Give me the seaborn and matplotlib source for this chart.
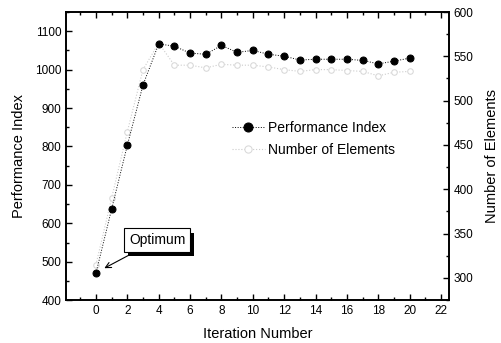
import matplotlib
matplotlib.use("Agg")
import matplotlib.pyplot as plt
import matplotlib.patheffects as pe
import seaborn as sns
import pandas as pd
from matplotlib.ticker import MultipleLocator

# data
iterations = list(range(0, 21))
performance_index = [470, 637, 803, 960, 1067, 1061, 1043, 1040, 1063, 1045, 1050,
                     1040, 1035, 1025, 1027, 1027, 1027, 1024, 1015, 1022, 1030]
number_of_elements = [315, 390, 465, 535, 565, 540, 540, 537, 541, 540, 540,
                      538, 535, 533, 535, 535, 534, 533, 528, 532, 533]

df = pd.DataFrame({"it": iterations, "perf": performance_index, "elem": number_of_elements})

sns.set_style("ticks")
plt.rcParams['font.family'] = ['Liberation Sans', 'DejaVu Sans']
plt.rcParams.update({"text.color": "black", "axes.labelcolor": "black",
                     "xtick.color": "black", "ytick.color": "black",
                     "axes.edgecolor": "black"})

fig = plt.figure(figsize=(5.01, 3.43), dpi=100)
ax = fig.add_axes([0.132, 0.125, 0.764, 0.84])
ax2 = ax.twinx()

# number of elements on the right axis (faint grey)
sns.lineplot(data=df, x="it", y="elem", ax=ax2, color="#cccccc", linestyle=":",
             linewidth=0.8, marker="o", markersize=4, markerfacecolor="white",
             markeredgecolor="#d8d8d8", label="Number of Elements", legend=False)
# performance index on the left axis
sns.lineplot(data=df, x="it", y="perf", ax=ax, color="black", linestyle=":",
             linewidth=0.7, marker="o", markersize=5, markeredgecolor="black",
             label="Performance Index", legend=False)
ax.set_zorder(ax2.get_zorder() + 1)
ax.patch.set_visible(False)

ax.set_xlim(-1.9, 22.5)
ax.set_ylim(400, 1150)
ax2.set_ylim(275, 600)
ax.xaxis.set_major_locator(MultipleLocator(2))
ax.xaxis.set_minor_locator(MultipleLocator(1))
ax.yaxis.set_major_locator(MultipleLocator(100))
ax.yaxis.set_minor_locator(MultipleLocator(50))
ax2.yaxis.set_major_locator(MultipleLocator(50))
ax2.yaxis.set_minor_locator(MultipleLocator(25))
ax.set_xticks(range(0, 23, 2))

for a in (ax, ax2):
    a.tick_params(which="both", direction="in", labelsize=8.5, width=1,
                  colors="black")
    a.tick_params(which="major", length=4)
    a.tick_params(which="minor", length=2)
    for s in a.spines.values():
        s.set_linewidth(1.2)
        s.set_color("black")
        s.set_visible(True)
ax.tick_params(which="both", top=True)

ax.set_xlabel("Iteration Number", fontsize=10.5, labelpad=7)
ax.set_ylabel("Performance Index", fontsize=10.5, labelpad=6)
ax2.set_ylabel("Number of Elements", fontsize=10.5, labelpad=8)

# legend
h1, l1 = ax.get_legend_handles_labels()
h2, l2 = ax2.get_legend_handles_labels()
leg = ax.legend(h1 + h2, l1 + l2, loc="center left", bbox_to_anchor=(0.40, 0.56),
                frameon=False, fontsize=10, handlelength=2.4, handletextpad=0.2,
                labelspacing=0.55, markerscale=1.3)

# annotation with shadowed box
ann = ax.annotate("Optimum", xy=(0.3, 478), xytext=(2.1, 556), fontsize=10,
                  ha="left", va="center",
                  bbox=dict(boxstyle="square,pad=0.35", fc="white", ec="black", lw=0.8),
                  arrowprops=dict(arrowstyle="->", color="black", lw=0.8,
                                  shrinkA=0, shrinkB=3))
ann.get_bbox_patch().set_path_effects([
    pe.withSimplePatchShadow(offset=(3, -3), shadow_rgbFace="black", alpha=1.0)])

fig.savefig("out.png", dpi=100)
